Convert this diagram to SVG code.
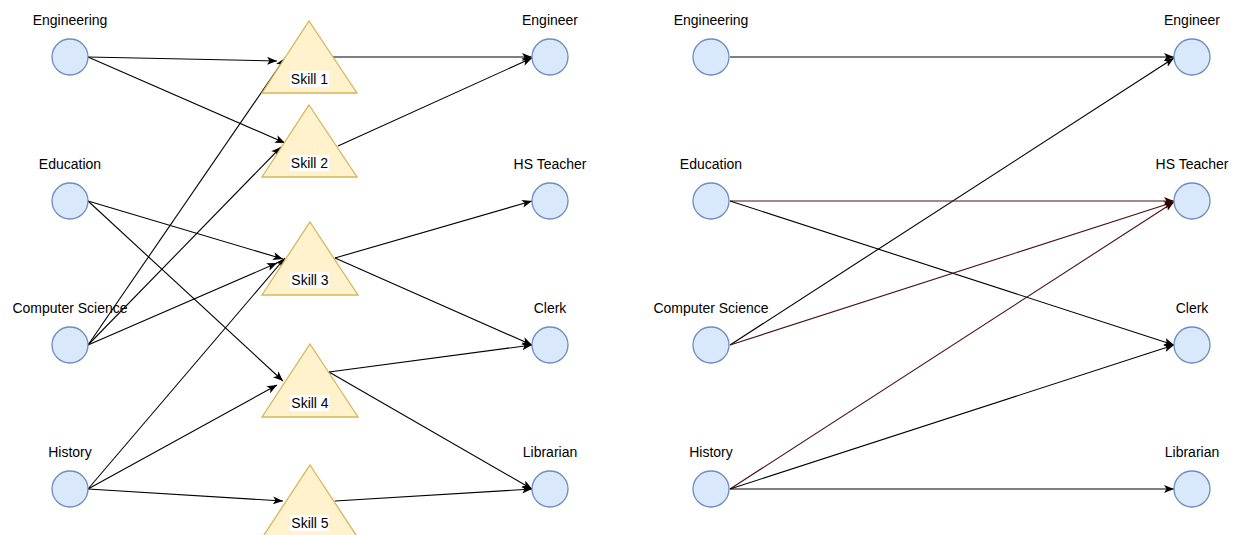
<svg xmlns="http://www.w3.org/2000/svg" width="1236" height="535" viewBox="0 0 1236 535">
<style>
.c{fill:#dae8fc;stroke:#6c8ebf;stroke-width:1.3}
.t{fill:#fff2cc;stroke:#d6b656;stroke-width:1.3}
.lb{font-family:"Liberation Sans",Arial,sans-serif;font-size:14px;fill:#000;text-anchor:middle}
.e{fill:none;stroke:#000;stroke-width:1.1;marker-end:url(#ab)}
.r{fill:none;stroke:#4a1010;stroke-width:1.1;marker-end:url(#ar)}
.bg{fill:#fff}
</style>
<defs>
<marker id="ab" viewBox="0 0 10 8" refX="10" refY="4" markerWidth="10" markerHeight="8" markerUnits="userSpaceOnUse" orient="auto"><path d="M0,0 L10,4 L0,8 L2.5,4 z" fill="#000"/></marker>
<marker id="ar" viewBox="0 0 10 8" refX="10" refY="4" markerWidth="10" markerHeight="8" markerUnits="userSpaceOnUse" orient="auto"><path d="M0,0 L10,4 L0,8 L2.5,4 z" fill="#330000"/></marker>
</defs>
<rect width="1236" height="535" fill="#fff"/>
<g id="connectors">
<line class="e" x1="88" y1="57" x2="277" y2="61"/>
<line class="e" x1="88" y1="57" x2="285" y2="143"/>
<line class="e" x1="88" y1="345" x2="285" y2="58"/>
<line class="e" x1="88" y1="345" x2="281" y2="147"/>
<line class="e" x1="333" y1="57" x2="532" y2="57"/>
<line class="e" x1="338" y1="146" x2="532" y2="58"/>
<line class="e" x1="88" y1="201" x2="283" y2="259"/>
<line class="e" x1="88" y1="345" x2="277" y2="263"/>
<line class="e" x1="88" y1="489" x2="285" y2="258"/>
<line class="e" x1="88" y1="201" x2="283" y2="381"/>
<line class="e" x1="88" y1="489" x2="277" y2="385"/>
<line class="e" x1="88" y1="489" x2="283" y2="501"/>
<line class="e" x1="335" y1="258" x2="532" y2="201"/>
<line class="e" x1="335" y1="258" x2="532" y2="345"/>
<line class="e" x1="329" y1="372" x2="532" y2="345"/>
<line class="e" x1="329" y1="372" x2="532" y2="489"/>
<line class="e" x1="335" y1="501" x2="532" y2="489"/>
<line class="e" x1="730" y1="57" x2="1174" y2="57"/>
<line class="e" x1="730" y1="345" x2="1174" y2="58"/>
<line class="r" x1="730" y1="201" x2="1174" y2="201"/>
<line class="e" x1="730" y1="201" x2="1174" y2="345"/>
<line class="r" x1="730" y1="345" x2="1174" y2="202"/>
<line class="r" x1="730" y1="489" x2="1174" y2="202"/>
<line class="e" x1="730" y1="489" x2="1174" y2="345"/>
<line class="e" x1="730" y1="489" x2="1174" y2="489"/>
</g>
<g id="l-engineering"><circle class="c" cx="70" cy="57" r="18"/><text class="lb" x="70" y="25">Engineering</text></g>
<g id="l-education"><circle class="c" cx="70" cy="201" r="18"/><text class="lb" x="70" y="169">Education</text></g>
<g id="l-cs"><circle class="c" cx="70" cy="345" r="18"/><text class="lb" x="70" y="313">Computer Science</text></g>
<g id="l-history"><circle class="c" cx="70" cy="489" r="18"/><text class="lb" x="70" y="457">History</text></g>
<g id="skill1"><polygon class="t" points="309,21 357,93 262,93"/><rect class="bg" x="290" y="71" width="39" height="16"/><text class="lb" x="309.5" y="84">Skill 1</text></g>
<g id="skill2"><polygon class="t" points="309,105 357,177 262,177"/><rect class="bg" x="290" y="155" width="39" height="16"/><text class="lb" x="309.5" y="168">Skill 2</text></g>
<g id="skill3"><polygon class="t" points="310,222 358,295 262,295"/><rect class="bg" x="290" y="272" width="39" height="16"/><text class="lb" x="310" y="285">Skill 3</text></g>
<g id="skill4"><polygon class="t" points="310,344 358,417 262,417"/><rect class="bg" x="290" y="395" width="39" height="16"/><text class="lb" x="310" y="408">Skill 4</text></g>
<g id="skill5"><polygon class="t" points="310,465 358,538 262,538"/><rect class="bg" x="290" y="515" width="39" height="16"/><text class="lb" x="310" y="528">Skill 5</text></g>
<g id="l-engineer"><circle class="c" cx="550" cy="57" r="18"/><text class="lb" x="550" y="25">Engineer</text></g>
<g id="l-hsteacher"><circle class="c" cx="550" cy="201" r="18"/><text class="lb" x="550" y="169">HS Teacher</text></g>
<g id="l-clerk"><circle class="c" cx="550" cy="345" r="18"/><text class="lb" x="550" y="313">Clerk</text></g>
<g id="l-librarian"><circle class="c" cx="550" cy="489" r="18"/><text class="lb" x="550" y="457">Librarian</text></g>
<g id="r-engineering"><circle class="c" cx="711" cy="57" r="18"/><text class="lb" x="711" y="25">Engineering</text></g>
<g id="r-education"><circle class="c" cx="711" cy="201" r="18"/><text class="lb" x="711" y="169">Education</text></g>
<g id="r-cs"><circle class="c" cx="711" cy="345" r="18"/><text class="lb" x="711" y="313">Computer Science</text></g>
<g id="r-history"><circle class="c" cx="711" cy="489" r="18"/><text class="lb" x="711" y="457">History</text></g>
<g id="r-engineer"><circle class="c" cx="1192" cy="57" r="18"/><text class="lb" x="1192" y="25">Engineer</text></g>
<g id="r-hsteacher"><circle class="c" cx="1192" cy="201" r="18"/><text class="lb" x="1192" y="169">HS Teacher</text></g>
<g id="r-clerk"><circle class="c" cx="1192" cy="345" r="18"/><text class="lb" x="1192" y="313">Clerk</text></g>
<g id="r-librarian"><circle class="c" cx="1192" cy="489" r="18"/><text class="lb" x="1192" y="457">Librarian</text></g>
</svg>
